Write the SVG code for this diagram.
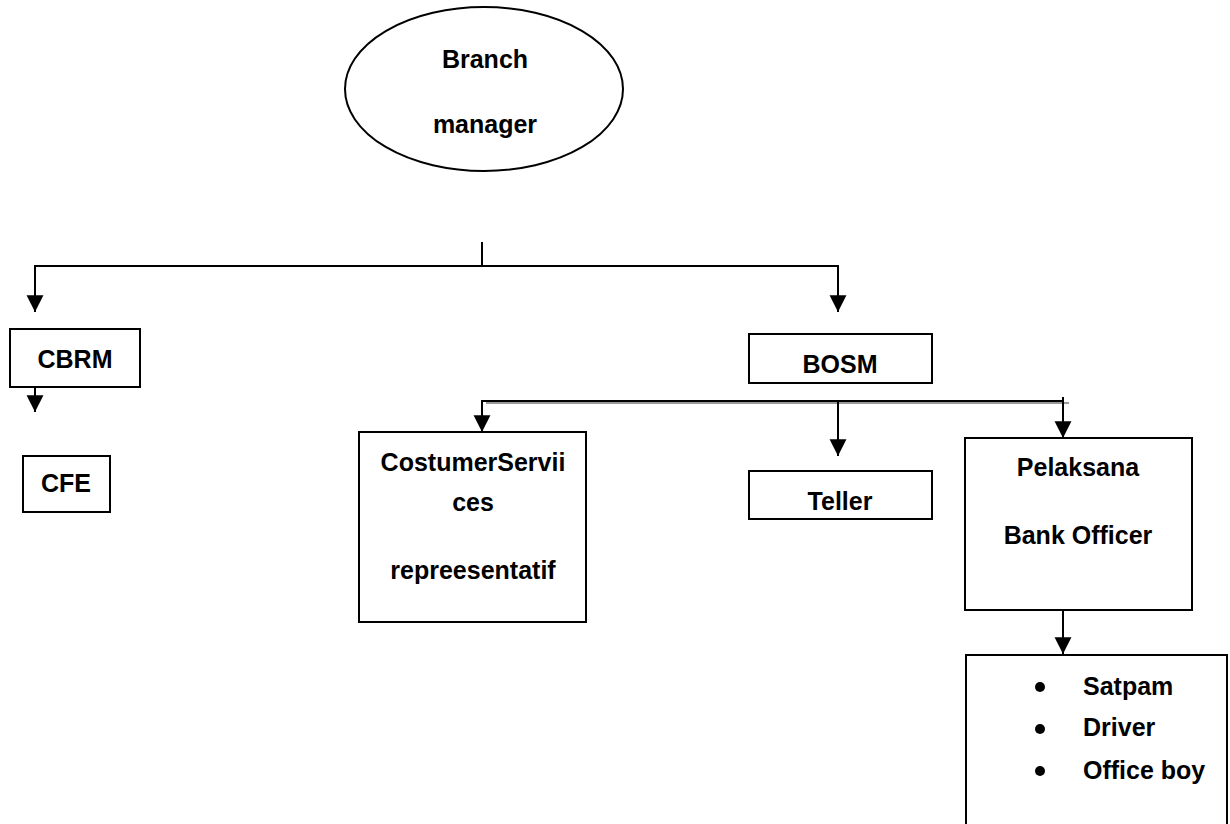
<svg xmlns="http://www.w3.org/2000/svg" width="1230" height="824" viewBox="0 0 1230 824">
<style>
  .box{fill:#fff;stroke:#000;stroke-width:2}
  .t{font-family:"Liberation Sans",Arial,sans-serif;font-weight:bold;font-size:25px;fill:#000}
  .c{text-anchor:middle}
  .ln{fill:none;stroke:#000;stroke-width:2}
</style>
<defs>
  <marker id="ah" markerUnits="userSpaceOnUse" markerWidth="18" markerHeight="18" viewBox="0 0 16 16" refX="15" refY="8" orient="auto">
    <path d="M0,0.5 L15,8 L0,15.5 Z" fill="#000"/>
  </marker>
</defs>
<rect width="1230" height="824" fill="#fff"/>
<g id="connectors">
  <line class="ln" x1="482" y1="242" x2="482" y2="266"/>
  <polyline class="ln" points="35,266 838,266"/>
  <line class="ln" x1="35" y1="265" x2="35" y2="312" marker-end="url(#ah)"/>
  <line class="ln" x1="838" y1="265" x2="838" y2="312" marker-end="url(#ah)"/>
  <line class="ln" x1="35" y1="387" x2="35" y2="412" marker-end="url(#ah)"/>
  <line x1="486" y1="403" x2="1069" y2="403" stroke="#999" stroke-width="2"/>
  <line class="ln" x1="482" y1="401" x2="1063" y2="401"/>
  <line class="ln" x1="482" y1="400" x2="482" y2="432" marker-end="url(#ah)"/>
  <line class="ln" x1="1063" y1="397" x2="1063" y2="438" marker-end="url(#ah)"/>
  <line class="ln" x1="838" y1="401" x2="838" y2="456" marker-end="url(#ah)"/>
  <line class="ln" x1="1063" y1="610" x2="1063" y2="654" marker-end="url(#ah)"/>
</g>
<g id="branch-manager">
  <ellipse cx="484" cy="89" rx="139" ry="82" fill="#fff" stroke="#000" stroke-width="2"/>
  <text class="t c" x="485" y="68">Branch</text>
  <text class="t c" x="485" y="133">manager</text>
</g>
<g id="cbrm">
  <rect class="box" x="10" y="329" width="130" height="58"/>
  <text class="t c" x="75" y="368">CBRM</text>
</g>
<g id="cfe">
  <rect class="box" x="23" y="456" width="87" height="56"/>
  <text class="t c" x="66" y="492">CFE</text>
</g>
<g id="bosm">
  <rect class="box" x="749" y="334" width="183" height="49"/>
  <text class="t c" x="840" y="373">BOSM</text>
</g>
<g id="customer-services">
  <rect class="box" x="359" y="432" width="227" height="190"/>
  <text class="t c" x="473" y="471">CostumerServii</text>
  <text class="t c" x="473" y="511">ces</text>
  <text class="t c" x="473" y="579">repreesentatif</text>
</g>
<g id="teller">
  <rect class="box" x="749" y="471" width="183" height="48"/>
  <text class="t c" x="840" y="510">Teller</text>
</g>
<g id="pelaksana">
  <rect class="box" x="965" y="438" width="227" height="172"/>
  <text class="t c" x="1078" y="476">Pelaksana</text>
  <text class="t c" x="1078" y="544">Bank Officer</text>
</g>
<g id="staff">
  <rect class="box" x="966" y="655" width="261" height="180"/>
  <circle cx="1040" cy="687" r="5" fill="#000"/>
  <circle cx="1040" cy="729" r="5" fill="#000"/>
  <circle cx="1040" cy="771" r="5" fill="#000"/>
  <text class="t" x="1083" y="695">Satpam</text>
  <text class="t" x="1083" y="736">Driver</text>
  <text class="t" x="1083" y="779">Office boy</text>
</g>
</svg>
